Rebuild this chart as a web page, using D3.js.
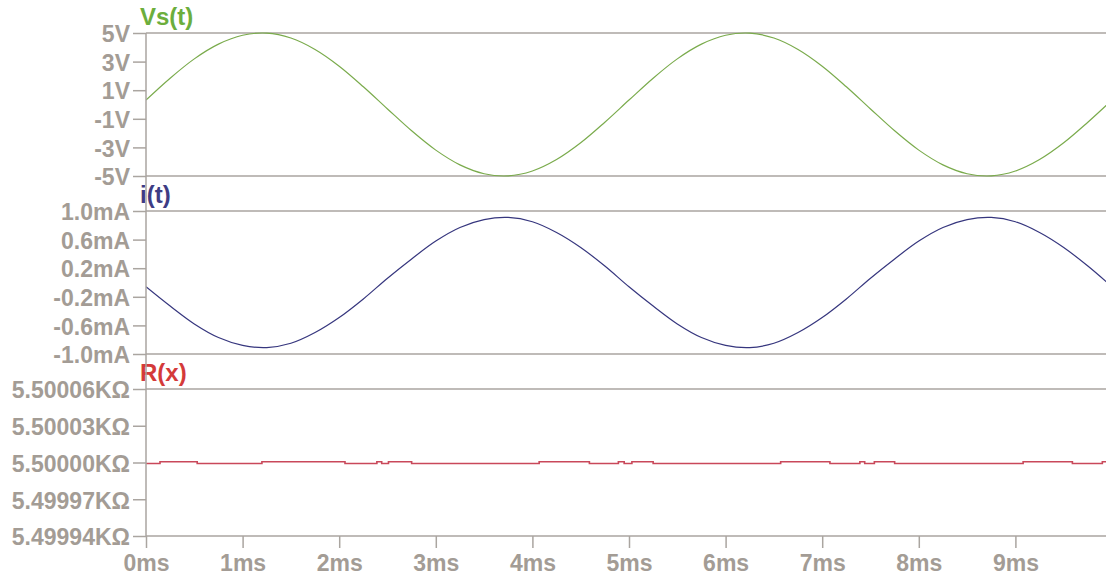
<!DOCTYPE html>
<html>
<head>
<meta charset="utf-8">
<script src="https://cdn.jsdelivr.net/npm/d3@7"></script>
<style>
  body { margin: 0; background: #fff; }
  svg { display: block; }
  .tick text { font-family: "Liberation Sans", Arial, sans-serif; font-weight: bold; }
</style>
</head>
<body>
<div id="chart"></div>
<script>
// sample times (ms), read every 0.25 ms
var times = [0, 0.25, 0.5, 0.75, 1, 1.25, 1.5, 1.75, 2, 2.25, 2.5, 2.75, 3, 3.25, 3.5, 3.75, 4, 4.25, 4.5, 4.75,
  5, 5.25, 5.5, 5.75, 6, 6.25, 6.5, 6.75, 7, 7.25, 7.5, 7.75, 8, 8.25, 8.5, 8.75, 9, 9.25, 9.5, 9.75, 10];

// source voltage (V)
var vsValues = [0.31, 1.84, 3.19, 4.22, 4.84, 4.99, 4.65, 3.85, 2.68, 1.24,
  -0.31, -1.84, -3.19, -4.22, -4.84, -4.99, -4.65, -3.85, -2.68, -1.24,
  0.31, 1.84, 3.19, 4.22, 4.84, 4.99, 4.65, 3.85, 2.68, 1.24,
  -0.31, -1.84, -3.19, -4.22, -4.84, -4.99, -4.65, -3.85, -2.68, -1.24, 0.31];

// current (mA)
var iValues = [-0.06, -0.33, -0.58, -0.77, -0.88, -0.91, -0.85, -0.70, -0.49, -0.23,
  0.06, 0.33, 0.58, 0.77, 0.88, 0.91, 0.85, 0.70, 0.49, 0.23,
  -0.06, -0.33, -0.58, -0.77, -0.88, -0.91, -0.85, -0.70, -0.49, -0.23,
  0.06, 0.33, 0.58, 0.77, 0.88, 0.91, 0.85, 0.70, 0.49, 0.23, -0.06];

// resistance (KOhm), step changes at these times
var rTimes = [0, 0.145, 0.53, 1.20, 2.06, 2.39, 2.44, 2.51, 2.75, 4.07, 4.59, 4.89, 4.95, 5.03, 5.25,
  6.57, 7.08, 7.39, 7.44, 7.54, 7.75, 9.08, 9.59, 9.90, 10];
var rValues = [5.4999992, 5.5000006, 5.4999992, 5.5000006, 5.4999992, 5.5000006, 5.4999992, 5.5000006,
  5.4999992, 5.5000006, 5.4999992, 5.5000006, 5.4999992, 5.5000006, 5.4999992, 5.5000006, 5.4999992,
  5.5000006, 5.4999992, 5.5000006, 5.4999992, 5.5000006, 5.4999992, 5.5000006, 5.5000006];

var xTicks = [0, 1, 2, 3, 4, 5, 6, 7, 8, 9];
var vsTicks = [5, 3, 1, -1, -3, -5];
var iTicks = [1.0, 0.6, 0.2, -0.2, -0.6, -1.0];
var rTicks = [5.50006, 5.50003, 5.50000, 5.49997, 5.49994];

var width = 1106,
  height = 581,
  left = 146,
  axisColor = "#aaa5a0",
  labelColor = "#a39c95",
  fontSize = 23,
  titleSize = 24;

// plain hyphen instead of d3's unicode minus
function hy(s) { return s.replace("\u2212", "-"); }

var svg = d3.select("#chart").append("svg")
  .attr("width", width)
  .attr("height", height);

var x = d3.scaleLinear().domain([0, 10]).range([left, 1112]);

var panels = [
  { title: "Vs(t)", color: "#6cae3c", line: "#7aab4c", top: 33, bottom: 176, domain: [-5, 5],
    ticks: vsTicks, fmt: d => d + "V", xs: times, ys: vsValues, curve: d3.curveCatmullRom, lw: 1.2 },
  { title: "i(t)", color: "#3e3c84", line: "#36367e", top: 211, bottom: 354, domain: [-1, 1],
    ticks: iTicks, fmt: d => hy(d3.format(".1f")(d)) + "mA", xs: times, ys: iValues, curve: d3.curveCatmullRom, lw: 1.2 },
  { title: "R(x)", color: "#d43a3a", line: "#c9485a", top: 389, bottom: 536, domain: [5.49994, 5.50006],
    ticks: rTicks, fmt: d => d3.format(".5f")(d) + "KΩ", xs: rTimes, ys: rValues, curve: d3.curveStepAfter, lw: 1.6 }
];

svg.append("defs").append("clipPath").attr("id", "clip")
  .append("rect").attr("x", left).attr("y", 0).attr("width", width - left).attr("height", height);

panels.forEach(function(p) {
  var y = d3.scaleLinear().domain(p.domain).range([p.bottom, p.top]);

  // frame lines
  [p.top, p.bottom].forEach(function(yy) {
    svg.append("line")
      .attr("x1", left).attr("x2", width)
      .attr("y1", yy).attr("y2", yy)
      .attr("stroke", axisColor).attr("stroke-width", 1.5);
  });

  var yAxis = svg.append("g")
    .attr("transform", "translate(" + left + ",0)")
    .call(d3.axisLeft(y).tickValues(p.ticks).tickFormat(p.fmt).tickSize(13).tickPadding(3));
  yAxis.select(".domain").remove();
  yAxis.selectAll(".tick line").attr("stroke", axisColor).attr("stroke-width", 1.5);
  yAxis.selectAll(".tick text")
    .attr("fill", labelColor)
    .style("font-size", fontSize + "px")
    .attr("dy", "0.38em");

  svg.append("text")
    .attr("x", 140)
    .attr("y", p.top - 8)
    .attr("fill", p.color)
    .style("font-family", "'Liberation Sans', Arial, sans-serif")
    .style("font-weight", "bold")
    .style("font-size", titleSize + "px")
    .text(p.title);

  var line = d3.line()
    .x((d, i) => x(p.xs[i]))
    .y(d => y(d))
    .curve(p.curve);

  svg.append("path")
    .datum(p.ys)
    .attr("clip-path", "url(#clip)")
    .attr("fill", "none")
    .attr("stroke", p.line)
    .attr("stroke-width", p.lw)
    .attr("d", line);
});

// left axis line through all panels
svg.append("line")
  .attr("x1", left).attr("x2", left)
  .attr("y1", 33).attr("y2", 536)
  .attr("stroke", axisColor).attr("stroke-width", 1.5);

var xAxis = svg.append("g")
  .attr("transform", "translate(0,536)")
  .call(d3.axisBottom(x).tickValues(xTicks).tickFormat(d => d + "ms").tickSize(12).tickPadding(7));
xAxis.select(".domain").remove();
xAxis.selectAll(".tick line").attr("stroke", axisColor).attr("stroke-width", 1.5);
xAxis.selectAll(".tick text")
  .attr("fill", labelColor)
  .style("font-size", fontSize + "px");
</script>
</body>
</html>
